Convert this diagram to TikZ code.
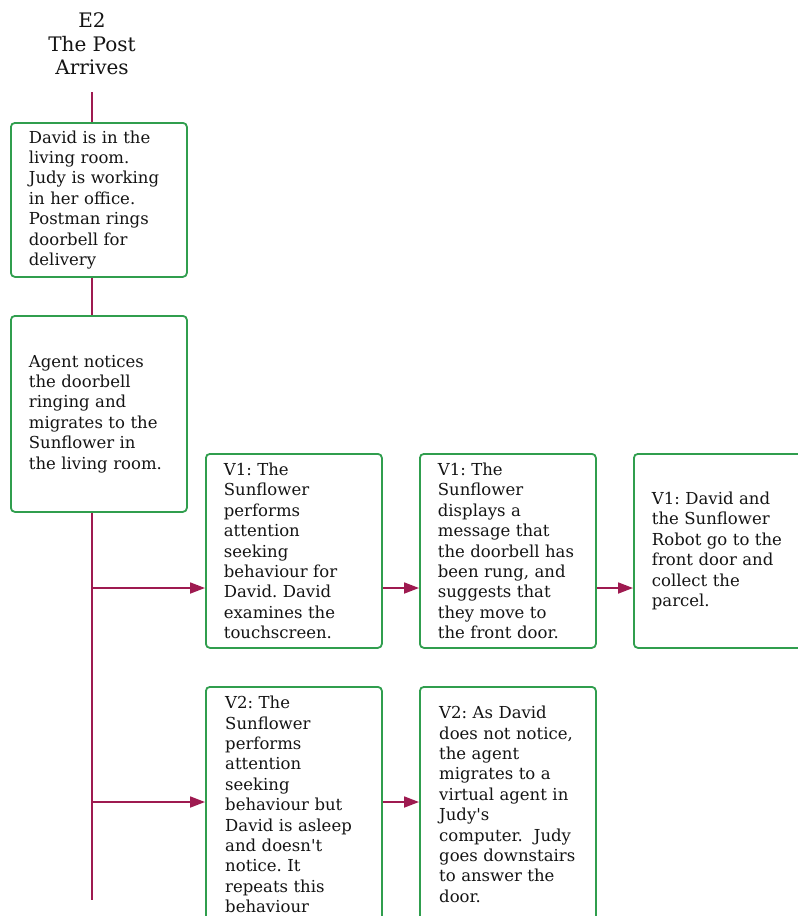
\documentclass[tikz,border=0pt]{standalone}
\usepackage{fontspec}
\setmainfont{DejaVu Serif}
\usetikzlibrary{arrows.meta,calc}
\definecolor{boxgreen}{RGB}{48,158,78}
\definecolor{linered}{RGB}{158,26,80}
\definecolor{txt}{RGB}{20,20,20}
\begin{document}
\frenchspacing
\begin{tikzpicture}[x=1pt,y=-1pt,
  boxtext/.style={font=\frenchspacing\fontsize{16.5}{20.4}\selectfont, text=txt, align=left, text width=140pt},
  stepbox/.style={boxtext, draw=boxgreen, line width=1.8pt, rounded corners=4pt,
    minimum width=176pt, inner xsep=0pt, inner ysep=0pt, anchor=north west},
  emptybox/.style={draw=boxgreen, line width=1.8pt, rounded corners=4pt,
    minimum width=176pt, inner sep=0pt, anchor=north west},
  spine/.style={draw=linered, line width=1.8pt},
  arr/.style={spine, -{Triangle[length=15pt,width=11pt]}}]
\clip (0,0) rectangle (798,916);
\fill[white] (0,0) rectangle (798,916);

\node[font=\fontsize{20}{23.5}\selectfont, text=txt, align=center] (title) at (92,44) {E2\\The Post\\Arrives};

\node[stepbox, minimum height=154pt] (b1) at (10,122) {David is in the\\ living room.\\ Judy is working\\ in her office.\\ Postman rings\\ doorbell for\\ delivery};
\node[stepbox, minimum height=196pt] (b2) at (10,315) {Agent notices\\ the doorbell\\ ringing and\\ migrates to the\\ Sunflower in\\ the living room.};

\node[stepbox, minimum height=194pt] (v1a) at (205,453) {V1: The\\ Sunflower\\ performs\\ attention\\ seeking\\ behaviour for\\ David. David\\ examines the\\ touchscreen.};
\node[stepbox, minimum height=194pt] (v1b) at (419,453) {V1: The\\ Sunflower\\ displays a\\ message that\\ the doorbell has\\ been rung, and\\ suggests that\\ they move to\\ the front door.};
\node[stepbox, minimum height=194pt] (v1c) at (633,453) {V1: David and\\ the Sunflower\\ Robot go to the\\ front door and\\ collect the\\ parcel.};

\node[emptybox, minimum height=300pt] (v2a) at (205,686) {};
\node[emptybox, minimum height=300pt] (v2b) at (419,686) {};
\node[boxtext, inner sep=0pt, anchor=north west] (v2atext) at ($(v2a.north west)+(20,10)$) {V2: The\\ Sunflower\\ performs\\ attention\\ seeking\\ behaviour but\\ David is asleep\\ and doesn\textquotesingle t\\ notice. It\\ repeats this\\ behaviour};
\node[boxtext, inner sep=0pt, anchor=north west] (v2btext) at ($(v2b.north west)+(20,20)$) {V2: As David\\ does not notice,\\ the agent\\ migrates to a\\ virtual agent in\\ Judy\textquotesingle s\\ computer.\ \ Judy\\ goes downstairs\\ to answer the\\ door.};

\coordinate (stop) at (92,92);
\coordinate (sbottom) at (92,900);
\coordinate (j1) at (92,588);
\coordinate (j2) at (92,802);

\draw[spine] (stop) -- (stop |- b1.north);
\draw[spine] (stop |- b1.south) -- (stop |- b2.north);
\draw[spine] (stop |- b2.south) -- (sbottom);

\draw[arr] (j1) -- (j1 -| v1a.west);
\draw[arr] (v1a.east |- j1) -- (v1b.west |- j1);
\draw[arr] (v1b.east |- j1) -- (v1c.west |- j1);
\draw[arr] (j2) -- (j2 -| v2a.west);
\draw[arr] (v2a.east |- j2) -- (v2b.west |- j2);
\end{tikzpicture}
\end{document}
